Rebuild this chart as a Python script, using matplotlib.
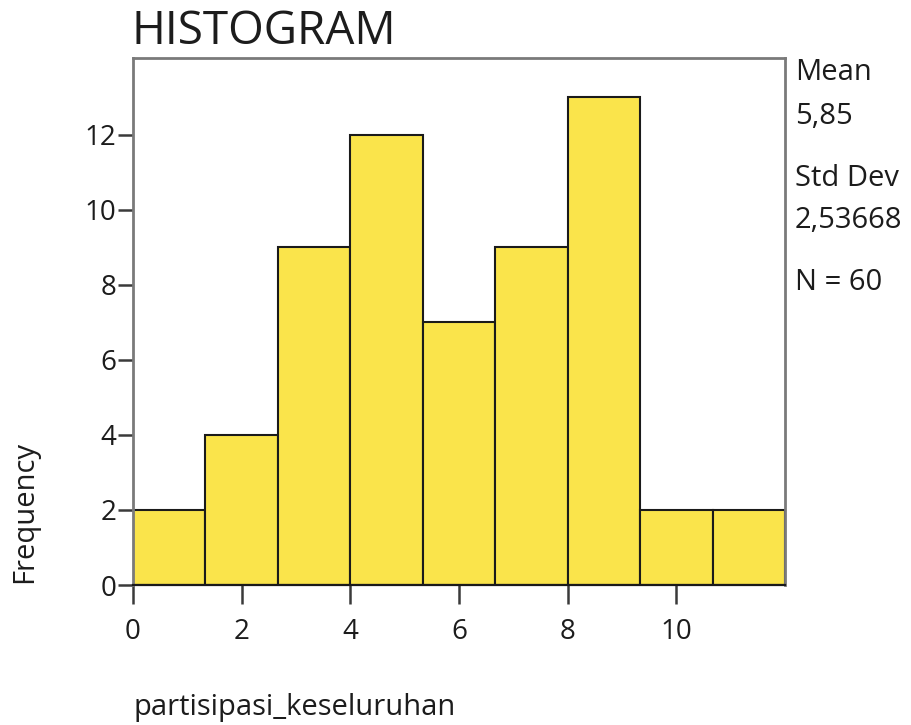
import numpy as np
import matplotlib
matplotlib.use('Agg')
import matplotlib.pyplot as plt

plt.rcParams.update({
    'font.family': ['Open Sans', 'DejaVu Sans'],
    'font.size': 21,
    'text.color': '#1c1c1c',
})

# data
bin_edges = [0, 4 / 3, 8 / 3, 4, 16 / 3, 20 / 3, 8, 28 / 3, 32 / 3, 12]
counts = [2, 4, 9, 12, 7, 9, 13, 2, 2]
x_ticks = [0, 2, 4, 6, 8, 10]
y_ticks = [0, 2, 4, 6, 8, 10, 12]
stats_lines = ["Mean", "5,85", "Std Dev", "2,53668", "N = 60"]

W, H = 912, 725
fig = plt.figure(figsize=(W / 100, H / 100), dpi=100, facecolor='white')
ax = fig.add_axes([133 / W, 1 - 585 / H, (785 - 133) / W, (585 - 58) / H])

edges = np.array(bin_edges)
ax.bar(edges[:-1], counts, width=np.diff(edges), align='edge',
       color='#fae44b', edgecolor='#1a1a1a', linewidth=1.5, zorder=2)

ax.set_xlim(0, 12)
ax.set_ylim(0, 14.05)
ax.set_xticks(x_ticks)
ax.set_yticks(y_ticks)
ax.set_xticklabels([str(v) for v in x_ticks])
ax.set_yticklabels([str(v) for v in y_ticks])

for s in ax.spines.values():
    s.set_color('#7a7a7a')
    s.set_linewidth(2)
ax.spines['bottom'].set_color('#1a1a1a')
ax.spines['bottom'].set_linewidth(1.6)

ax.tick_params(axis='x', length=14, width=1.8, color='#3a3a3a', pad=10,
               labelsize=20, labelcolor='#1c1c1c')
ax.tick_params(axis='y', length=11, width=1.8, color='#3a3a3a', pad=1,
               labelsize=20, labelcolor='#1c1c1c')

# title and labels
fig.text(131 / W, 1 - 32 / H, "HISTOGRAM", fontsize=33, ha='left', va='center')
fig.text(25 / W, 1 - 583 / H, "Frequency", fontsize=21, rotation=90,
         ha='center', va='bottom')
fig.text(133 / W, 1 - 708 / H, "partisipasi_keseluruhan", fontsize=21,
         ha='left', va='center')

# summary statistics on the right
y_pos = [72, 116, 178, 221, 283]
for txt, yp in zip(stats_lines, y_pos):
    fig.text(795 / W, 1 - yp / H, txt, fontsize=21, ha='left', va='center')

fig.savefig('out.png', dpi=100, facecolor='white')
